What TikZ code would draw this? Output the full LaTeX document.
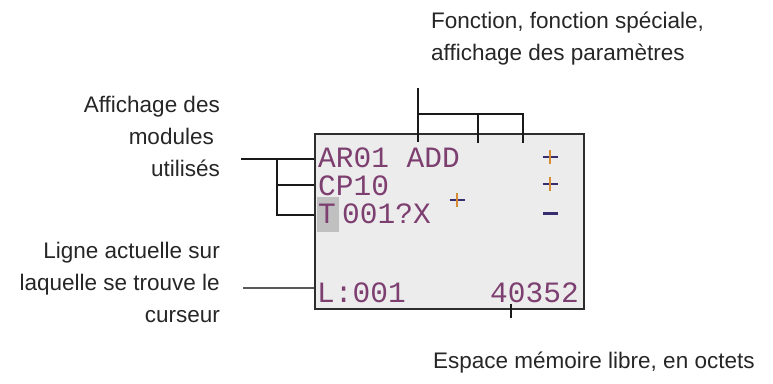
\documentclass[tikz,border=0pt]{standalone}
\usepackage{fontspec}
\setmainfont{Liberation Sans}
\newfontfamily\lcdfont{Liberation Mono}
\usepackage{xcolor}
\definecolor{lcdGray}{RGB}{236, 236, 236}
\definecolor{lcdInk}{RGB}{125, 62, 112}
\definecolor{frameGray}{RGB}{45, 45, 45}
\definecolor{cursorGray}{RGB}{192, 192, 192}
\definecolor{markNavy}{RGB}{55, 45, 110}
\definecolor{markOrange}{RGB}{215, 140, 50}
\usepackage{tikz}
\usetikzlibrary{calc}

\begin{document}
\begin{tikzpicture}[x=1pt, y=-1pt,
  lbl/.style={inner sep=0pt, font=\fontsize{22.5}{32}\selectfont, text=black!85},
  lcdbox/.style={rectangle, draw=frameGray, fill=lcdGray, line width=1.8pt,
                 inner sep=0pt, anchor=north west},
  lcdtxt/.style={inner sep=0pt, anchor=base west, text=lcdInk,
                 font=\lcdfont\fontsize{29.5}{30}\selectfont},
  conn/.style={draw=black!90, line width=1.6pt},
  bar/.style={draw=markNavy, line width=2.4pt},
  stem/.style={draw=markOrange, line width=2.2pt}]

  \useasboundingbox (0, 0) rectangle (773, 383);

  % ── Labels ───────────────────────────────────────────────────────
  \node[lbl, align=left, anchor=north west] (fnLbl) at (431, 11.5)
        {Fonction, fonction spéciale,\\affichage des paramètres};
  \node[lbl, align=right, anchor=north east] (modLbl) at (220, 95.5)
        {Affichage des\\modules\kern6pt\\utilisés};
  \node[lbl, align=right, anchor=north east] (curLbl) at (220, 241.5)
        {Ligne actuelle sur\\laquelle se trouve le\\curseur};
  \node[lbl, anchor=base west] (memLbl) at (433, 368)
        {Espace mémoire libre, en octets};

  % ── LCD display ──────────────────────────────────────────────────
  \node[lcdbox, minimum width=269pt, minimum height=175pt] (lcd) at (314, 133) {};
  \node[fill=cursorGray, inner sep=0pt, minimum width=22pt, minimum height=35pt,
        anchor=north west] (cursor) at (317, 197) {};

  \node[lcdtxt] (ar01) at (318, 167) {AR01 ADD};
  \node[lcdtxt] (cp10) at (318, 195) {CP10};
  \node[lcdtxt] (tRow) at (318, 223) {T};
  \node[lcdtxt] (t001) at (342, 223) {001?X};
  \node[lcdtxt] (lRow) at (317, 302) {L:001};
  \node[lcdtxt] (mem)  at (490, 302) {40352};

  % ── Plus / minus marks ───────────────────────────────────────────
  \foreach \px/\py/\w in {550/157/2.8, 550/184/1.4, 457/200/1.6} {
    \draw[bar, line width=\w pt] (\px-7.5, \py) -- (\px+7.5, \py);
    \draw[stem] (\px, \py-7) -- (\px, \py+7);
  }
  \draw[bar, line width=3pt] (543, 213) -- (558, 213);

  % ── Connectors ───────────────────────────────────────────────────
  \coordinate (fnTip)  at (418, 88);
  \coordinate (fnJoin) at (418, 114);
  \coordinate (fnA)    at (418, 142);
  \coordinate (fnB)    at (478, 143);
  \coordinate (fnC)    at (523, 143);
  \draw[conn] (fnTip) -- (fnA);
  \draw[conn, line width=1.3pt] (fnJoin) -| (fnC);
  \draw[conn] (fnJoin -| fnB) -- (fnB);

  \coordinate (modTip)  at (241, 159);
  \coordinate (modFork) at (277, 159);
  \draw[conn] (modTip) -- (modTip -| lcd.west);
  \draw[conn] (modFork) |- (lcd.west |- cursor.west);
  \draw[conn] (modFork |- cp10.west) -- (lcd.west |- cp10.west);

  \coordinate (curTip) at (243, 288);
  \draw[conn, draw=black!65, line width=1.3pt] (curTip) -- (curTip -| lcd.west);

  \coordinate (memTip) at (511, 318);
  \draw[conn] (memTip) -- (511, 304);

\end{tikzpicture}
\end{document}
